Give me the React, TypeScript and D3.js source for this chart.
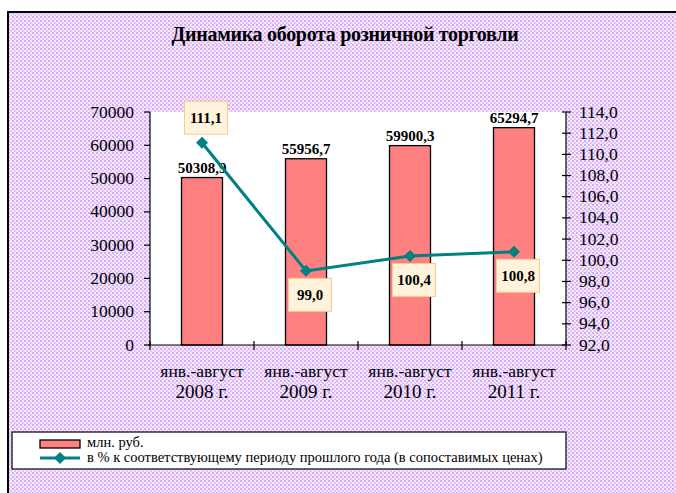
import React from "react";
import * as d3 from "d3";

const categoriesTop = ["янв.-август", "янв.-август", "янв.-август", "янв.-август"];
const categoriesBottom = ["2008 г.", "2009 г.", "2010 г.", "2011 г."];
const categoryKeys = ["2008", "2009", "2010", "2011"];
const turnover = [50308.9, 55956.7, 59900.3, 65294.7];
const turnoverLabels = ["50308,9", "55956,7", "59900,3", "65294,7"];
const percent = [111.1, 99.0, 100.4, 100.8];
const percentLabels = ["111,1", "99,0", "100,4", "100,8"];
const leftTicks = [0, 10000, 20000, 30000, 40000, 50000, 60000, 70000];
const rightTicks = [92, 94, 96, 98, 100, 102, 104, 106, 108, 110, 112, 114];
const title = "Динамика оборота розничной торговли";
const legendBar = "млн. руб.";
const legendLine = "в % к соответствующему периоду прошлого года (в сопоставимых ценах)";

const W = 676;
const H = 493;
const plot = { left: 150, right: 566, top: 112, bottom: 345 };
const FONT = '"Liberation Serif", "DejaVu Serif", "Times New Roman", serif';

export default function App() {
  const x = d3.scaleBand<string>().domain(categoryKeys).range([plot.left, plot.right]).paddingInner(0).paddingOuter(0);
  const yL = d3.scaleLinear().domain([0, 70000]).range([plot.bottom, plot.top]);
  const yR = d3.scaleLinear().domain([92, 114]).range([plot.bottom, plot.top]);
  const barW = 41;
  const cx = (i: number) => (x(categoryKeys[i]) as number) + x.bandwidth() / 2;

  const line = d3
    .line<number>()
    .x((_, i) => cx(i))
    .y((d) => yR(d));

  const boundaries = [...categoryKeys.map((k) => x(k) as number), plot.right];

  return (
    <svg width={W} height={H} style={{ position: "absolute", left: 0, top: 0, fontFamily: FONT }}>
      <defs>
        <pattern id="dots" width="4" height="4" patternUnits="userSpaceOnUse">
          <rect width="4" height="4" fill="#f5eafd" />
          <rect x="0" y="0" width="2" height="2" fill="#d6aaf4" />
          <rect x="2" y="2" width="2" height="2" fill="#e4c4f8" />
        </pattern>
      </defs>
      <rect x={0} y={0} width={W} height={H} fill="#ffffff" />
      <rect x={8} y={12} width={W + 10} height={H + 10} fill="url(#dots)" stroke="#000" strokeWidth={2} />

      <text x={345} y={41} textAnchor="middle" fontSize={20} fontWeight="bold" letterSpacing={-0.3}>
        {title}
      </text>

      <rect x={plot.left} y={plot.top} width={plot.right - plot.left} height={plot.bottom - plot.top} fill="#ffffff" />

      {turnover.map((v, i) => (
        <rect
          key={"b" + i}
          x={cx(i) - barW / 2}
          y={yL(v)}
          width={barW}
          height={plot.bottom - yL(v)}
          fill="#ff8080"
          stroke="#000"
          strokeWidth={1.3}
        />
      ))}
      {turnover.map((v, i) => (
        <text key={"bl" + i} x={cx(i)} y={yL(v) - 5} textAnchor="middle" fontSize={15} fontWeight="bold">
          {turnoverLabels[i]}
        </text>
      ))}

      {/* left axis */}
      <line x1={plot.left} x2={plot.left} y1={plot.top} y2={plot.bottom} stroke="#000" strokeWidth={1.2} />
      {leftTicks.map((t) => (
        <g key={"lt" + t}>
          <line x1={plot.left - 6} x2={plot.left} y1={yL(t)} y2={yL(t)} stroke="#000" strokeWidth={1.2} />
          <text x={134} y={yL(t) + 5.5} textAnchor="end" fontSize={17.5}>
            {t}
          </text>
        </g>
      ))}

      {/* right axis */}
      <line x1={plot.right} x2={plot.right} y1={plot.top} y2={plot.bottom} stroke="#000" strokeWidth={1.2} />
      {rightTicks.map((t) => (
        <g key={"rt" + t}>
          <line x1={plot.right - 4} x2={plot.right + 5} y1={yR(t)} y2={yR(t)} stroke="#000" strokeWidth={1.2} />
          <text x={579} y={yR(t) + 5.5} textAnchor="start" fontSize={17.5}>
            {d3.format(".1f")(t).replace(".", ",")}
          </text>
        </g>
      ))}

      {/* bottom axis */}
      <line x1={plot.left - 2} x2={plot.right} y1={plot.bottom} y2={plot.bottom} stroke="#000" strokeWidth={1.2} />
      {boundaries.map((b, i) => (
        <line key={"bt" + i} x1={b} x2={b} y1={plot.bottom - 4} y2={plot.bottom + 5} stroke="#000" strokeWidth={1.2} />
      ))}
      {categoryKeys.map((k, i) => (
        <g key={"c" + k}>
          <text x={cx(i)} y={377} textAnchor="middle" fontSize={17.5}>
            {categoriesTop[i]}
          </text>
          <text x={cx(i)} y={398} textAnchor="middle" fontSize={19}>
            {categoriesBottom[i]}
          </text>
        </g>
      ))}

      {/* line series */}
      <path d={line(percent) || ""} fill="none" stroke="#008080" strokeWidth={3} />
      {percent.map((v, i) => (
        <path
          key={"m" + i}
          d={`M${cx(i)},${yR(v) - 6}L${cx(i) + 6},${yR(v)}L${cx(i)},${yR(v) + 6}L${cx(i) - 6},${yR(v)}Z`}
          fill="#008080"
        />
      ))}
      {percent.map((v, i) => {
        const bx = cx(i) + 4;
        const by = i === 0 ? yR(v) - 25 : yR(v) + 24;
        return (
          <g key={"pl" + i}>
            <rect x={bx - 21.5} y={by - 16.5} width={43} height={33} fill="#fff3dc" stroke="#f9c98f" strokeWidth={1} />
            <text x={bx} y={by + 5} textAnchor="middle" fontSize={15} fontWeight="bold">
              {percentLabels[i]}
            </text>
          </g>
        );
      })}

      {/* legend */}
      <rect x={12} y={432} width={554} height={37} fill="#ffffff" stroke="#000" strokeWidth={1.2} />
      <rect x={40} y={440} width={40} height={8} fill="#ff8080" stroke="#000" strokeWidth={1.3} />
      <text x={87} y={447} fontSize={14.5}>
        {legendBar}
      </text>
      <line x1={40} x2={80} y1={458} y2={458} stroke="#008080" strokeWidth={3} />
      <path d="M60,452L66,458L60,464L54,458Z" fill="#008080" />
      <text x={87} y={462} fontSize={14.5}>
        {legendLine}
      </text>
    </svg>
  );
}
